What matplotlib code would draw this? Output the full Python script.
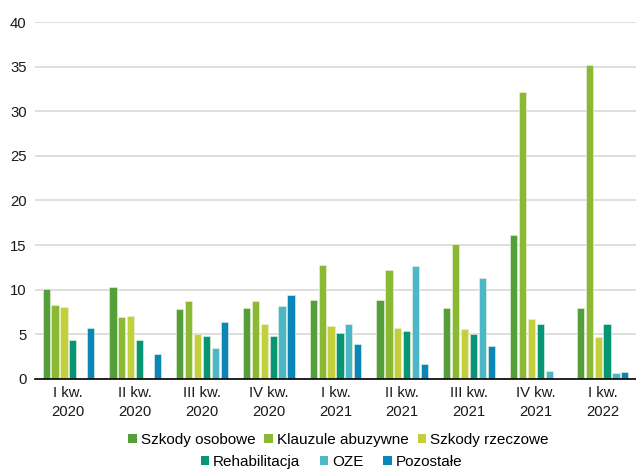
import numpy as np
import matplotlib.pyplot as plt
from matplotlib.patches import Patch

plt.rcParams['font.family'] = ['Liberation Sans', 'DejaVu Sans']
plt.rcParams['font.size'] = 11

quarters = ['I kw.\n2020', 'II kw.\n2020', 'III kw.\n2020', 'IV kw.\n2020',
            'I kw.\n2021', 'II kw.\n2021', 'III kw.\n2021', 'IV kw.\n2021',
            'I kw.\n2022']

szkody_osobowe = [10.1, 10.3, 7.8, 7.9, 8.8, 8.8, 7.9, 16.1, 7.9]
klauzule_abuzywne = [8.3, 6.9, 8.7, 8.7, 12.8, 12.2, 15.1, 32.2, 35.2]
szkody_rzeczowe = [8.1, 7.0, 5.0, 6.1, 5.9, 5.7, 5.6, 6.7, 4.7]
rehabilitacja = [4.4, 4.4, 4.8, 4.8, 5.1, 5.4, 5.0, 6.2, 6.1]
oze = [0.0, 0.0, 3.4, 8.2, 6.2, 12.7, 11.3, 0.9, 0.6]
pozostale = [5.7, 2.8, 6.4, 9.4, 3.9, 1.7, 3.7, 0.0, 0.8]

series = [
    ('Szkody osobowe', szkody_osobowe, '#559f3b'),
    ('Klauzule abuzywne', klauzule_abuzywne, '#8cb934'),
    ('Szkody rzeczowe', szkody_rzeczowe, '#c3cf3b'),
    ('Rehabilitacja', rehabilitacja, '#069674'),
    ('OZE', oze, '#4bb7c7'),
    ('Pozostałe', pozostale, '#0a87b6'),
]

fig = plt.figure(figsize=(6.36, 4.70), dpi=100)
ax = fig.add_axes([0.055, 0.194, 0.945, 0.759])

x = np.arange(len(quarters))
pitch = 0.133
width = 0.108
for k, (name, vals, col) in enumerate(series):
    ax.bar(x + (k - 2.5) * pitch, vals, width, color=col,
           edgecolor='#eef4e0', linewidth=0.4, zorder=3)

ax.set_xlim(-0.5, len(quarters) - 0.5)
ax.set_ylim(0, 40)
ax.set_yticks(np.arange(0, 41, 5))
ax.set_xticks(x)
ax.set_xticklabels(quarters, linespacing=1.5)
ax.tick_params(axis='both', length=0, labelsize=10.7, colors='#1a1a1a')
ax.tick_params(axis='y', pad=6)
ax.tick_params(axis='x', pad=5)
ax.grid(axis='y', color='#d9d9d9', linewidth=1.2, zorder=0)
for side in ['left', 'right', 'top']:
    ax.spines[side].set_visible(False)
ax.spines['bottom'].set_color('black')
ax.spines['bottom'].set_linewidth(1.2)
ax.spines['bottom'].set_zorder(4)

handles = [Patch(facecolor=col, label=name) for name, _, col in series]
leg_kw = dict(frameon=False, fontsize=11, handlelength=0.55, handleheight=0.55,
              handletextpad=0.25, borderpad=0, borderaxespad=0)
fig.legend(handles=handles[:3], ncol=3, loc='center',
           bbox_to_anchor=(0.532, 0.064), columnspacing=0.6, **leg_kw)
fig.legend(handles=handles[3:], ncol=3, loc='center',
           bbox_to_anchor=(0.521, 0.018), columnspacing=1.3, **leg_kw)

fig.savefig('out.png', dpi=100)
